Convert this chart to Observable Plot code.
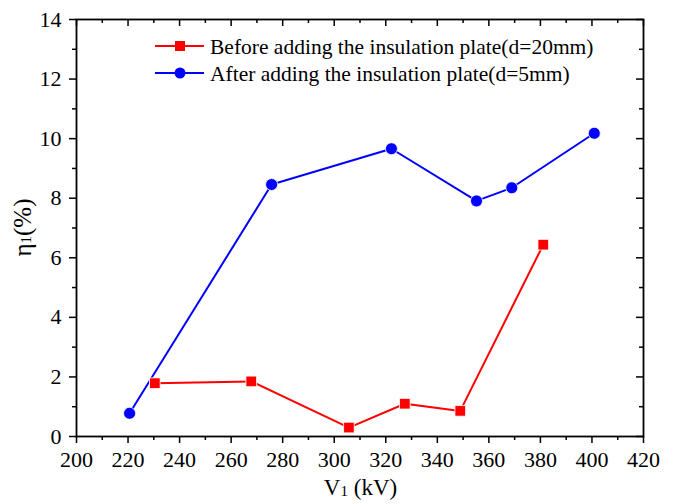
<!DOCTYPE html>
<html>
<head>
<meta charset="utf-8">
<script src="https://cdn.jsdelivr.net/npm/d3@7"></script>
<script src="https://cdn.jsdelivr.net/npm/@observablehq/plot@0.6"></script>
<style>
  html, body { margin: 0; padding: 0; background: #fff; }
  #chart { width: 688px; height: 504px; }
</style>
</head>
<body>
<div id="chart"></div>
<script>
// Data
const beforeV = [230.4, 267.8, 305.7, 327.4, 348.9, 381.1];
const beforeEta = [1.79, 1.85, 0.30, 1.10, 0.86, 6.44];
const afterV = [220.6, 275.7, 322.2, 355.2, 368.9, 400.9];
const afterEta = [0.78, 8.46, 9.66, 7.91, 8.35, 10.18];

const seriesNames = ["Before adding the insulation plate(d=20mm)", "After adding the insulation plate(d=5mm)"];
const xMajor = [200, 220, 240, 260, 280, 300, 320, 340, 360, 380, 400, 420];
const xMinor = [210, 230, 250, 270, 290, 310, 330, 350, 370, 390, 410];
const yMajor = [0, 2, 4, 6, 8, 10, 12, 14];
const yMinor = [1, 3, 5, 7, 9, 11, 13];

const before = beforeV.map((v, i) => ({v, eta: beforeEta[i]}));
const after = afterV.map((v, i) => ({v, eta: afterEta[i]}));

const W = 688, H = 504;
const mL = 76, mR = 45, mT = 19, mB = 68;
const plotW = W - mL - mR, plotH = H - mT - mB;
const RED = "#ff0000", BLUE = "#0000ff";
const font = "'Liberation Serif', 'Times New Roman', serif";

const chart = Plot.plot({
  width: W, height: H,
  marginLeft: mL, marginRight: mR, marginTop: mT, marginBottom: mB,
  style: {fontFamily: font, fontSize: "22px", color: "#000", background: "#fff"},
  x: {domain: [200, 420], label: null},
  y: {domain: [0, 14], label: null},
  marks: [
    // bottom axis (outward ticks)
    Plot.axisX({ticks: xMajor, tickSize: 7, tickPadding: 8, tickFormat: d => String(d), strokeWidth: 1.5}),
    Plot.axisX({ticks: xMinor, tickSize: 4, tickFormat: () => "", strokeWidth: 1.5}),
    // left axis (outward ticks)
    Plot.axisY({ticks: yMajor, tickSize: 7, tickPadding: 8, tickFormat: d => String(d), strokeWidth: 1.5}),
    Plot.axisY({ticks: yMinor, tickSize: 4, tickFormat: () => "", strokeWidth: 1.5}),
    // top axis (inward ticks)
    Plot.tickX(xMajor, {x: d => d, insetBottom: plotH - 7, stroke: "#000", strokeWidth: 1.5}),
    Plot.tickX(xMinor, {x: d => d, insetBottom: plotH - 4, stroke: "#000", strokeWidth: 1.5}),
    // right axis (inward ticks)
    Plot.tickY(yMajor, {y: d => d, insetLeft: plotW - 7, stroke: "#000", strokeWidth: 1.5}),
    Plot.tickY(yMinor, {y: d => d, insetLeft: plotW - 4, stroke: "#000", strokeWidth: 1.5}),
    Plot.frame({stroke: "#000", strokeWidth: 1.8}),
    // series
    Plot.line(before, {x: "v", y: "eta", stroke: RED, strokeWidth: 2}),
    Plot.line(after, {x: "v", y: "eta", stroke: BLUE, strokeWidth: 2}),
    Plot.dot(before, {x: "v", y: "eta", symbol: "square", r: 6, fill: RED, stroke: "#fff", strokeWidth: 0.8}),
    Plot.dot(after, {x: "v", y: "eta", symbol: "circle", r: 6, fill: BLUE, stroke: "#fff", strokeWidth: 0.8})
  ]
});

document.getElementById("chart").appendChild(chart);

const svg = d3.select(chart);

// Force serif font and size on the axis tick labels
svg.selectAll("text")
  .style("font-family", font)
  .style("font-size", "22px")
  .style("font-variant", "normal");

// Axis labels with subscripts
const xl = svg.append("text")
  .attr("x", (mL + W - mR) / 2 + 1)
  .attr("y", 495)
  .attr("text-anchor", "middle")
  .attr("font-family", font)
  .attr("font-size", 23)
  .attr("fill", "#000");
xl.append("tspan").text("V");
xl.append("tspan").attr("font-size", 15).attr("dy", 1).text("1");
xl.append("tspan").attr("dy", -1).text(" (kV)");

const yl = svg.append("text")
  .attr("transform", `translate(31,${mT + plotH / 2}) rotate(-90)`)
  .attr("text-anchor", "middle")
  .attr("font-family", font)
  .attr("font-size", 25)
  .attr("fill", "#000");
yl.append("tspan").text("η");
yl.append("tspan").attr("font-size", 15).text("1");
yl.append("tspan").text("(%)");

// Legend
const legend = svg.append("g").attr("font-family", font).attr("font-size", 21.5).attr("text-anchor", "start");
const rows = [
  {name: seriesNames[0], color: RED, sym: "square", y: 46},
  {name: seriesNames[1], color: BLUE, sym: "circle", y: 73}
];
rows.forEach(r => {
  legend.append("line").attr("x1", 155).attr("x2", 204).attr("y1", r.y).attr("y2", r.y)
    .attr("stroke", r.color).attr("stroke-width", 2);
  if (r.sym === "square") {
    legend.append("rect").attr("x", 175).attr("y", r.y - 5).attr("width", 10).attr("height", 10).attr("fill", r.color);
  } else {
    legend.append("circle").attr("cx", 180).attr("cy", r.y).attr("r", 5.5).attr("fill", r.color);
  }
  legend.append("text").attr("x", 210).attr("y", r.y).attr("dy", "0.35em").attr("fill", "#000")
    .attr("text-anchor", "start").text(r.name);
});
</script>
</body>
</html>
